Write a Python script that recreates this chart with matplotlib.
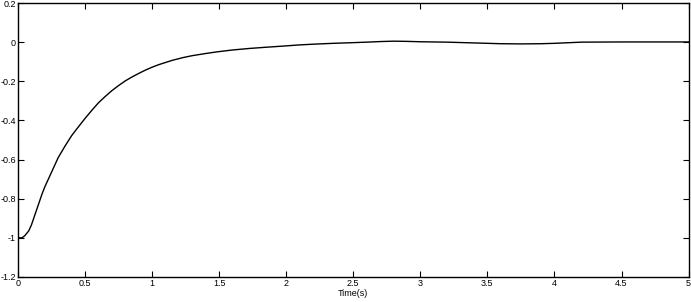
import numpy as np
from matplotlib import pyplot as plt

plt.rcParams['font.family'] = ['Liberation Sans', 'DejaVu Sans']

# response
time_s = [0.0, 0.03, 0.05, 0.08, 0.10, 0.13, 0.15, 0.18, 0.20, 0.23, 0.25,
          0.28, 0.30, 0.35, 0.40, 0.43, 0.47, 0.50, 0.55, 0.60, 0.65, 0.70,
          0.75, 0.80, 0.85, 0.90, 0.95, 1.00, 1.05, 1.10, 1.15, 1.23, 1.30,
          1.40, 1.48, 1.60, 1.73, 1.85, 1.98, 2.10, 2.23, 2.35, 2.48, 2.60,
          2.70, 2.80, 2.90, 3.00, 3.20, 3.35, 3.50, 3.60, 3.75, 3.90, 4.00,
          4.10, 4.20, 4.50, 5.00]
response = [-1.0, -1.0, -0.99, -0.965, -0.935, -0.875, -0.835, -0.775, -0.74,
            -0.695, -0.665, -0.62, -0.59, -0.532, -0.478, -0.451, -0.416, -0.390,
            -0.349, -0.31, -0.278, -0.248, -0.222, -0.198, -0.178, -0.16,
            -0.143, -0.128, -0.115, -0.104, -0.093, -0.079, -0.069, -0.058,
            -0.050, -0.040, -0.032, -0.026, -0.020, -0.014, -0.0095, -0.006,
            -0.003, 0.0, 0.003, 0.005, 0.004, 0.002, 0.0, -0.003, -0.006,
            -0.008, -0.009, -0.008, -0.006, -0.003, 0.0, 0.001, 0.001]

xticks = [0, 0.5, 1, 1.5, 2, 2.5, 3, 3.5, 4, 4.5, 5]
xticklabels = ["0", "0.5", "1", "1.5", "2", "2.5", "3", "3.5", "4", "4.5", "5"]
yticks = [0.2, 0, -0.2, -0.4, -0.6, -0.8, -1, -1.2]
yticklabels = ["0.2", "0", "-0.2", "-0.4", "-0.6", "-0.8", "-1", "-1.2"]

fig = plt.figure(figsize=(6.91, 3.02), dpi=100)
ax = fig.add_axes([0.026, 0.083, 0.9705, 0.907])
ax.plot(time_s, response, color="black", lw=1.0)

ax.set_xlim(0, 5)
ax.set_ylim(-1.2, 0.2)
ax.set_xticks(xticks)
ax.set_xticklabels(xticklabels)
ax.set_yticks(yticks)
ax.set_yticklabels(yticklabels)
ax.tick_params(direction="in", length=4, width=0.8, labelsize=6.5,
               top=True, right=True, pad=1.5)
for s in ax.spines.values():
    s.set_linewidth(1.0)
ax.set_xlabel("Time(s)", fontsize=6.5, labelpad=1)

fig.savefig("out.png", dpi=100)
